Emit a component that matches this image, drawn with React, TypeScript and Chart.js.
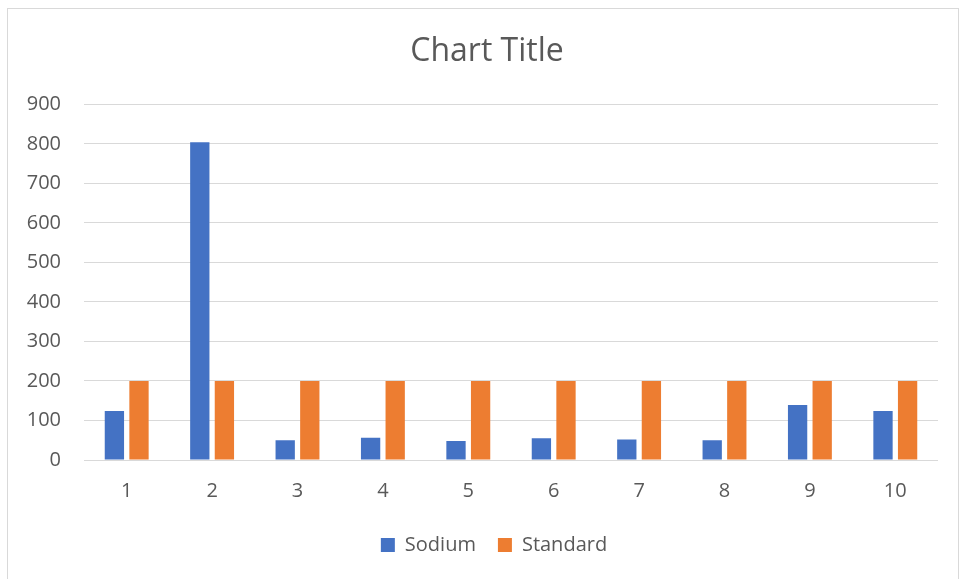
import React, { useEffect, useRef } from "react";
import { Chart, registerables } from "chart.js";

Chart.register(...registerables);

const categories = ["1", "2", "3", "4", "5", "6", "7", "8", "9", "10"];
const sodium = [124, 804, 50, 56, 48, 55, 52, 50, 139, 124];
const standard = [200, 200, 200, 200, 200, 200, 200, 200, 200, 200];
const seriesNames = ["Sodium", "Standard"];
const titleText = "Chart Title";
const yMax = 900;
const yStep = 100;

export default function App() {
  const ref = useRef<HTMLCanvasElement | null>(null);

  useEffect(() => {
    if (!ref.current) return;
    const font = "'Open Sans', 'Noto Sans', sans-serif";
    const shiftBoxes = {
      id: "shiftBoxes",
      afterLayout(chart: any) {
        if (chart.titleBlock) chart.titleBlock.left = 36;
        if (chart.legend) chart.legend.left = 50;
      },
    };
    const chart = new Chart(ref.current, {
      type: "bar",
      data: {
        labels: categories,
        datasets: [
          {
            label: seriesNames[0],
            data: sodium,
            backgroundColor: "#4472C4",
            categoryPercentage: 0.576,
            barPercentage: 0.785,
          },
          {
            label: seriesNames[1],
            data: standard,
            backgroundColor: "#ED7D31",
            categoryPercentage: 0.576,
            barPercentage: 0.785,
          },
        ],
      },
      options: {
        animation: false,
        responsive: false,
        maintainAspectRatio: false,
        layout: { padding: { left: 0, right: 23, top: 0, bottom: 14 } },
        plugins: {
          title: {
            display: true,
            text: titleText,
            color: "#595959",
            font: { family: font, size: 32, weight: "normal" },
            padding: { top: 33, bottom: 33 },
          },
          legend: {
            position: "bottom",
            labels: {
              color: "#595959",
              font: { family: font, size: 20 },
              boxWidth: 14,
              boxHeight: 14,
              padding: 22,
            },
          },
          tooltip: { enabled: false },
        },
        scales: {
          x: {
            grid: { display: false, drawTicks: false },
            border: { display: false },
            ticks: {
              color: "#595959",
              font: { family: font, size: 20 },
              padding: 19,
            },
            afterFit: (scale: any) => {
              scale.height = 53;
            },
          },
          y: {
            min: 0,
            max: yMax,
            grid: { color: "#d9d9d9", lineWidth: 1, drawTicks: false },
            border: { display: false },
            ticks: {
              stepSize: yStep,
              color: "#595959",
              font: { family: font, size: 20 },
              padding: 23,
            },
            afterFit: (scale: any) => {
              scale.width = 84;
            },
          },
        },
      },
      plugins: [shiftBoxes],
    });
    return () => chart.destroy();
  }, []);

  return (
    <div
      style={{
        position: "fixed",
        left: 0,
        top: 0,
        width: 961,
        height: 579,
        background: "#fff",
        overflow: "hidden",
      }}
    >
      <div
        style={{
          position: "absolute",
          left: 7,
          top: 8,
          width: 952,
          height: 590,
          border: "1px solid #d9d9d9",
          boxSizing: "border-box",
        }}
      />
      <canvas
        ref={ref}
        width={961}
        height={579}
        style={{ position: "absolute", left: 0, top: 0, width: 961, height: 579 }}
      />
    </div>
  );
}
